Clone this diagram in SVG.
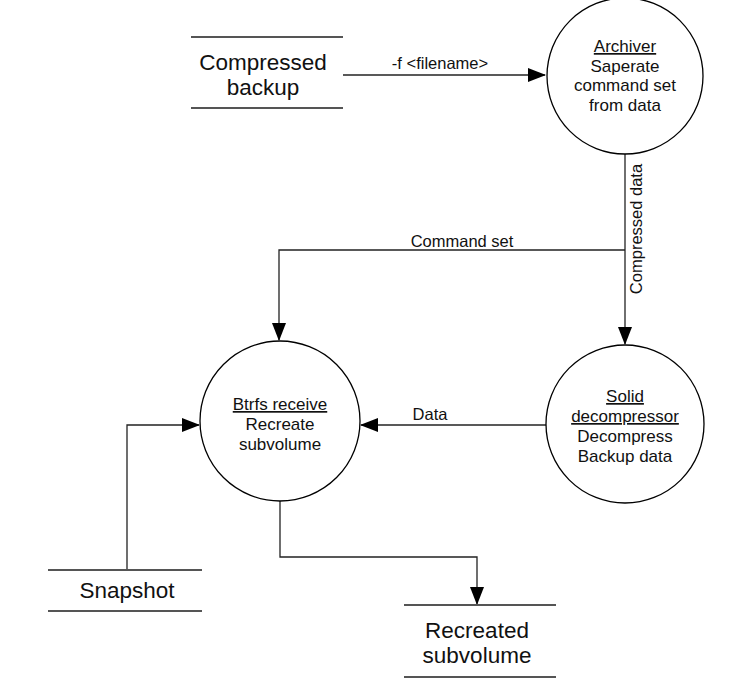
<svg xmlns="http://www.w3.org/2000/svg" width="732" height="700" viewBox="0 0 732 700">
<style>
.node{fill:#fff;stroke:#000;stroke-width:1.3}
.store{stroke:#555;stroke-width:2}
.t{font-family:"Liberation Sans",Arial,sans-serif;fill:#111;text-anchor:middle}
.n{font-size:17px}
.s{font-size:22.5px}
.l{font-size:16.5px}
.u{text-decoration:underline}
.c{fill:none;stroke:#222;stroke-width:1.3}
</style>
<defs>
<marker id="ah" markerWidth="18" markerHeight="14" refX="17" refY="7" orient="auto" markerUnits="userSpaceOnUse">
<path d="M0,0 L18,7 L0,14 z" fill="#000"/>
</marker>
</defs>
<rect width="732" height="700" fill="#fff"/>
<g id="connectors">
<path class="c" d="M343,75 L545,75" marker-end="url(#ah)"/>
<path class="c" d="M625,154 L625,344" marker-end="url(#ah)"/>
<path class="c" d="M625,250 L279,250 L279,340" marker-end="url(#ah)"/>
<path class="c" d="M546,425 L361,425" marker-end="url(#ah)"/>
<path class="c" d="M127,570 L127,425 L199,425" marker-end="url(#ah)"/>
<path class="c" d="M280,501 L280,557 L477,557 L477,604" marker-end="url(#ah)"/>
<text class="t l" x="440" y="69">-f &lt;filename&gt;</text>
<text class="t l" x="462" y="247">Command set</text>
<text class="t l" x="430" y="420">Data</text>
<text class="t l" transform="translate(642,229) rotate(-90)">Compressed data</text>
</g>
<g id="compressed-backup">
<line class="store" x1="191" y1="37" x2="343" y2="37"/>
<line class="store" x1="191" y1="108" x2="343" y2="108"/>
<text class="t s" x="263" y="70">Compressed</text>
<text class="t s" x="263" y="95">backup</text>
</g>
<g id="archiver">
<circle class="node" cx="625" cy="76" r="78"/>
<text class="t n" x="625" y="52"><tspan class="u">Archiver</tspan></text>
<text class="t n" x="625" y="72">Saperate</text>
<text class="t n" x="625" y="91">command set</text>
<text class="t n" x="625" y="111">from data</text>
</g>
<g id="solid-decompressor">
<circle class="node" cx="625" cy="424" r="79"/>
<text class="t n" x="625" y="402"><tspan class="u">Solid</tspan></text>
<text class="t n" x="625" y="422"><tspan class="u">decompressor</tspan></text>
<text class="t n" x="625" y="442">Decompress</text>
<text class="t n" x="625" y="462">Backup data</text>
</g>
<g id="btrfs-receive">
<circle class="node" cx="280" cy="421" r="80"/>
<text class="t n" x="280" y="410"><tspan class="u">Btrfs receive</tspan></text>
<text class="t n" x="280" y="430">Recreate</text>
<text class="t n" x="280" y="450">subvolume</text>
</g>
<g id="snapshot">
<line class="store" x1="48" y1="570" x2="202" y2="570"/>
<line class="store" x1="48" y1="611" x2="202" y2="611"/>
<text class="t s" x="127" y="598">Snapshot</text>
</g>
<g id="recreated-subvolume">
<line class="store" x1="404" y1="605" x2="556" y2="605"/>
<line class="store" x1="404" y1="677" x2="556" y2="677"/>
<text class="t s" x="477" y="638">Recreated</text>
<text class="t s" x="477" y="663">subvolume</text>
</g>
</svg>
